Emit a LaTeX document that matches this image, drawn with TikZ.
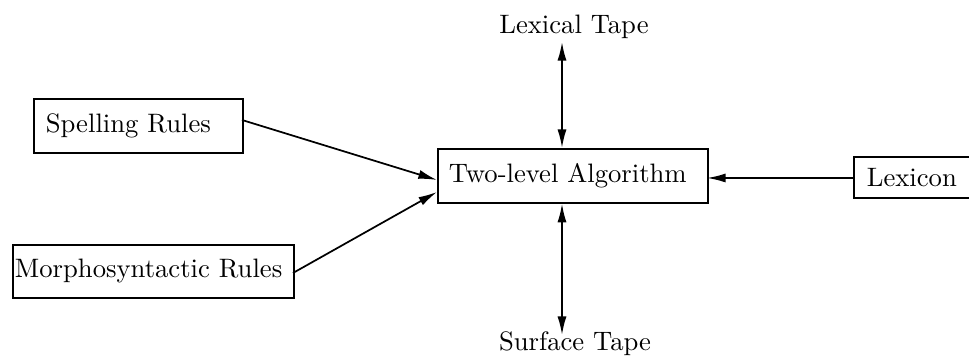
\documentclass[tikz,border=0pt]{standalone}
\usetikzlibrary{arrows.meta,calc}
\begin{document}
\begin{tikzpicture}[x=0.375pt,y=-0.375pt,
  box/.style={draw,line width=0.65pt,align=left,inner ysep=0pt,anchor=north west},
  conn/.style={line width=0.65pt,-{Latex[length=7pt,width=3.4pt]}},
  bothconn/.style={line width=0.65pt,{Latex[length=7pt,width=3.4pt]}-{Latex[length=7pt,width=3.4pt]}},
  tape/.style={inner sep=0pt,anchor=base}]
\useasboundingbox (0,0) rectangle (969,357);

% boxes: north-west corner, text width set by (width - 2*padding)
\node[box,inner xsep=12*0.375pt,text width=(209-24)*0.375pt,minimum height=54*0.375pt]
  (spell) at (33,98) {Spelling Rules};
\node[box,inner xsep=2*0.375pt,text width=(281-4)*0.375pt,minimum height=53*0.375pt]
  (morph) at (12,244) {Morphosyntactic Rules};
\node[box,inner xsep=11*0.375pt,text width=(270-22)*0.375pt,minimum height=54*0.375pt]
  (algo) at (437,148) {Two-level Algorithm};
\node[box,inner xsep=13*0.375pt,text width=(140-26)*0.375pt,minimum height=41*0.375pt]
  (lex) at (853,156) {Lexicon};

% tape labels
\node[tape] (ltape) at (574,34) {Lexical Tape};
\node[tape] (stape) at (575,351) {Surface Tape};

% arrow end points
\coordinate (lt) at (562,42);
\coordinate (st) at (562,335);
\coordinate (s0) at (242,120);
\coordinate (s1) at (437,180);
\coordinate (m0) at (293,273);
\coordinate (m1) at (437,192);
\coordinate (x0) at (853,178);
\coordinate (x1) at (707,178);

\draw[bothconn] (lt) -- (lt |- algo.north);
\draw[bothconn] (st) -- (st |- algo.south);
\draw[conn] (s0) -- (s1);
\draw[conn] (m0) -- (m1);
\draw[conn] (x0) -- (x1);
\end{tikzpicture}
\end{document}
